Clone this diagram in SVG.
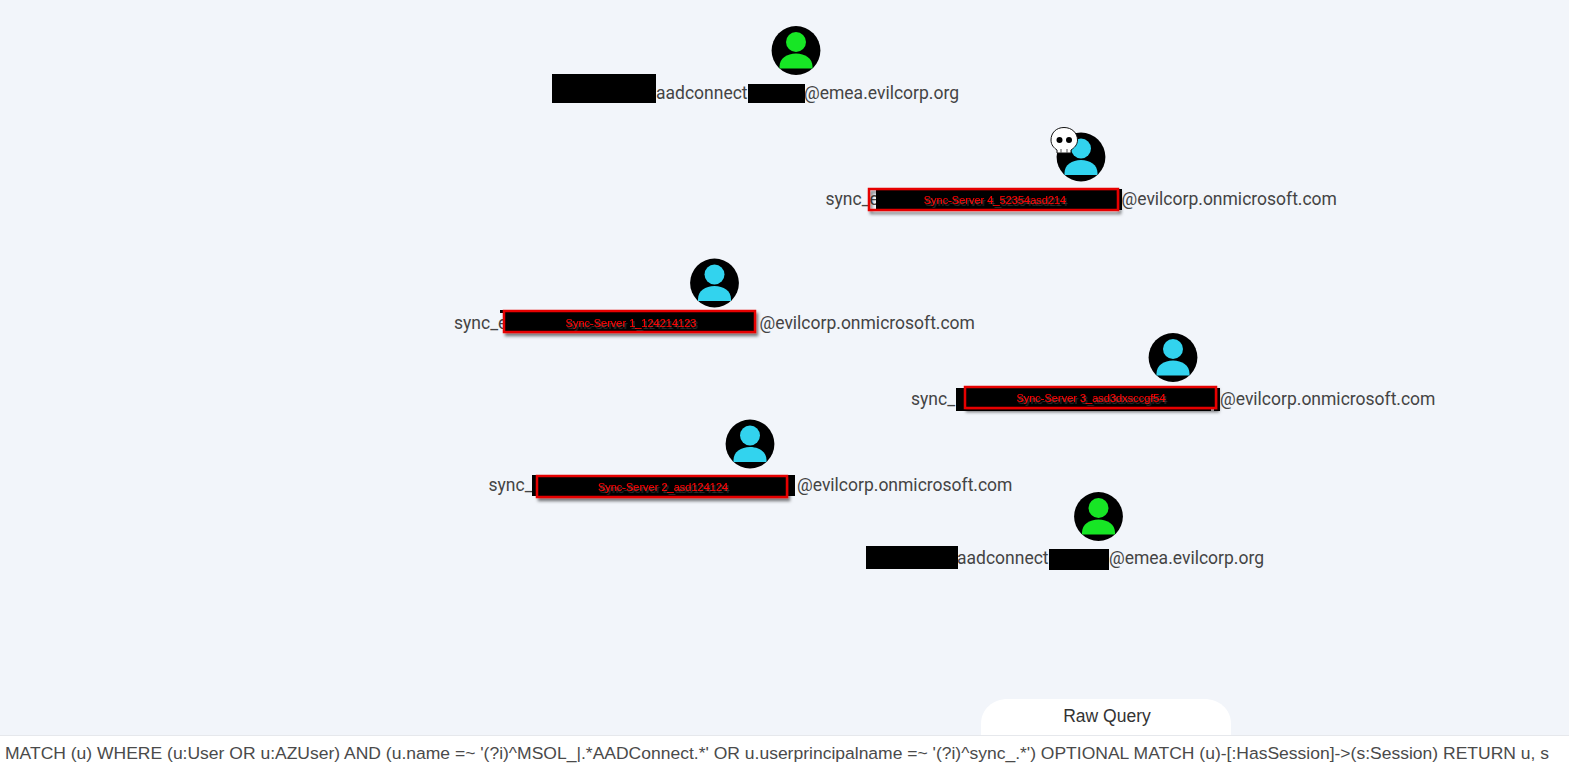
<svg xmlns="http://www.w3.org/2000/svg" width="1569" height="763" viewBox="0 0 1569 763">
<style>
.lbl{font-family:Roboto,"Liberation Sans",sans-serif;font-size:17.5px;fill:#444}
.tag{font-family:"Liberation Sans",Arial,sans-serif;font-size:11px;fill:#ff0000;stroke:#ff0000;stroke-width:.15;text-anchor:middle;filter:url(#ts)}
.q{font-family:"Liberation Sans",Arial,sans-serif;font-size:17.4px;fill:#4a4a4a}
.hd{font-family:"Liberation Sans",Arial,sans-serif;font-size:17.5px;fill:#333;text-anchor:middle}
.box{fill:#000;stroke:#e60000;stroke-width:2.5;filter:url(#sh)}
.frame{fill:none;stroke:#e60000;stroke-width:2.5;filter:url(#sh)}
.blk{fill:#000}
</style>
<defs>
<filter id="sh" x="-5%" y="-30%" width="110%" height="170%"><feDropShadow dx="2" dy="3" stdDeviation="1.5" flood-color="#000" flood-opacity=".5"/></filter>
<filter id="ts" x="-5%" y="-30%" width="110%" height="170%"><feDropShadow dx="1.5" dy="2" stdDeviation=".7" flood-color="#555" flood-opacity=".55"/></filter>
<g id="user">
<circle r="24.4" fill="#000"/>
<circle cy="-8.500" r="10" fill="currentColor"/>
<path d="M-16.500 18V16C-16.500 8-9 3 0 3S16.500 8 16.500 16V18Z" fill="currentColor"/>
</g>
</defs>
<rect width="1569" height="763" fill="#f2f5fa"/>
<g id="connectors"/>
<g id="n1">
<use href="#user" x="796" y="50.500" color="#17e625"/>
<text class="lbl" x="656" y="99">aadconnect</text>
<text class="lbl" x="804" y="99">@emea.evilcorp.org</text>
<rect class="blk" x="552" y="74" width="104" height="29"/>
<rect class="blk" x="748" y="84" width="57" height="19"/>
</g>
<g id="n2">
<use href="#user" x="1081" y="157" color="#32d3ee"/>
<g id="skull">
<path d="M1064 127.500C1056 127.500 1051 133 1051 140C1051 145 1054 148 1057 150V153H1071V150C1074 148 1077.500 145 1077.500 140C1077.500 133 1072 127.500 1064 127.500Z" fill="#fff" stroke="#111" stroke-width="1"/>
<circle cx="1059.500" cy="140" r="3" fill="#000"/><circle cx="1069" cy="140" r="3" fill="#000"/>
<path d="M1061 149v4M1067 149v4" stroke="#555" stroke-width="1"/>
</g>
<text class="lbl" x="825.500" y="205">sync_e</text>
<text class="lbl" x="1121.500" y="205">@evilcorp.onmicrosoft.com</text>
<rect class="blk" x="876" y="189" width="246" height="21"/>
<rect class="frame" x="869" y="189" width="249" height="21"/>
<text class="tag" x="995" y="204">Sync-Server 4_52354asd214</text>
</g>
<g id="n3">
<use href="#user" x="714.500" y="283" color="#32d3ee"/>
<text class="lbl" x="454" y="329">sync_e</text>
<text class="lbl" x="759.500" y="329">@evilcorp.onmicrosoft.com</text>
<rect class="blk" x="500" y="310" width="253" height="3"/>
<rect class="box" x="504" y="311" width="251" height="21"/>
<text class="tag" x="631" y="327">Sync-Server 1_124214123</text>
</g>
<g id="n4">
<use href="#user" x="1173" y="357.500" color="#32d3ee"/>
<text class="lbl" x="911" y="405">sync_</text>
<text class="lbl" x="1220" y="405">@evilcorp.onmicrosoft.com</text>
<rect class="blk" x="956" y="388" width="255" height="23"/>
<rect class="blk" x="1214" y="388" width="6" height="23"/>
<rect class="box" x="965" y="387" width="251" height="21"/>
<text class="tag" x="1091" y="402">Sync-Server 3_asd3dxsccgf54</text>
</g>
<g id="n5">
<use href="#user" x="750" y="444" color="#32d3ee"/>
<text class="lbl" x="488.500" y="491">sync_</text>
<text class="lbl" x="797" y="491">@evilcorp.onmicrosoft.com</text>
<rect class="blk" x="532" y="475" width="263" height="21"/>
<rect class="box" x="537" y="476" width="250" height="21"/>
<text class="tag" x="663" y="491">Sync-Server 2_asd124124</text>
</g>
<g id="n6">
<use href="#user" x="1098.500" y="516.500" color="#17e625"/>
<text class="lbl" x="957" y="564">aadconnect</text>
<text class="lbl" x="1109" y="564">@emea.evilcorp.org</text>
<rect class="blk" x="866" y="546" width="92" height="23"/>
<rect class="blk" x="1049" y="549" width="60" height="21"/>
</g>
<g id="query">
<rect x="0" y="735" width="1569" height="28" fill="#fff"/>
<path d="M0 735.500H1569" stroke="#e6e8ec" stroke-width="1"/>
<path d="M981 735V724C981 709 993 699 1008 699H1204C1219 699 1231 709 1231 724V735Z" fill="#fff"/>
<text class="hd" x="1107" y="722">Raw Query</text>
<text class="q" x="5" y="759" textLength="1544" lengthAdjust="spacingAndGlyphs">MATCH (u) WHERE (u:User OR u:AZUser) AND (u.name =~ '(?i)^MSOL_|.*AADConnect.*' OR u.userprincipalname =~ '(?i)^sync_.*') OPTIONAL MATCH (u)-[:HasSession]-&gt;(s:Session) RETURN u, s</text>
</g>
</svg>
